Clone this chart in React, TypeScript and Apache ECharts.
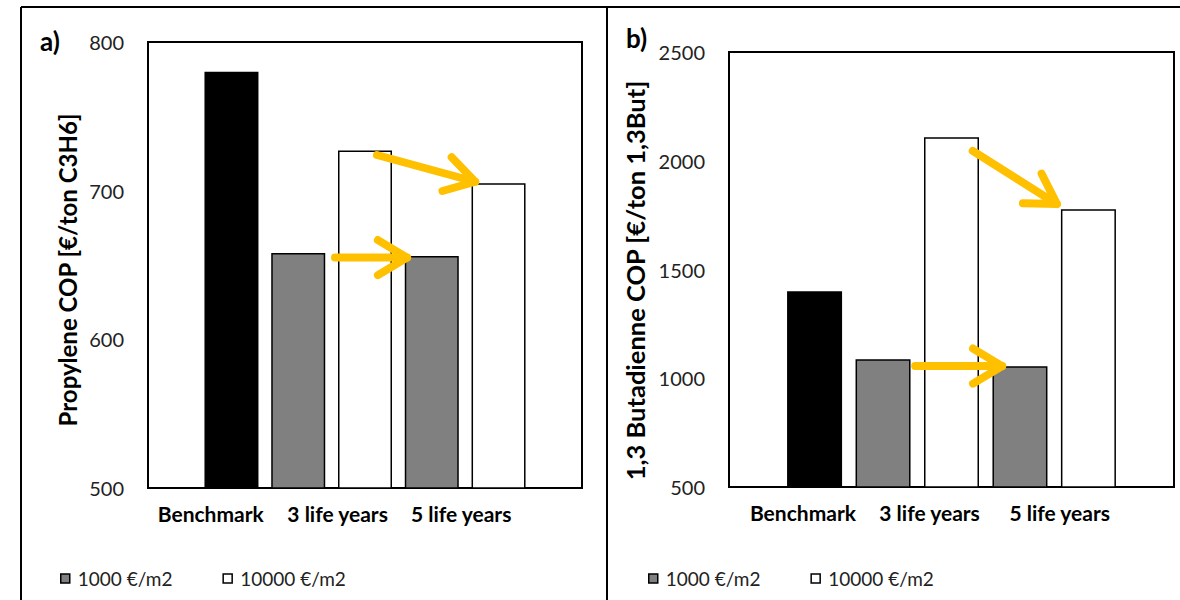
import React, { useEffect, useRef } from 'react';
import * as echarts from 'echarts';

const categories = ['Benchmark', '3 life years', '5 life years'];
const seriesNames = ['Benchmark', '1000 €/m2', '10000 €/m2'];
const propyleneBenchmark = [780];
const propylene1000 = [658, 656];
const propylene10000 = [727, 705];
const butadieneBenchmark = [1400];
const butadiene1000 = [1087, 1055];
const butadiene10000 = [2108, 1777];
const propyleneTicks = [500, 600, 700, 800];
const butadieneTicks = [500, 1000, 1500, 2000, 2500];
// arrows in data space: [x1, y1, x2, y2] (x in bar-slot units)
const propyleneArrows = [
  [3.43, 724, 4.9, 706],
  [2.8, 655, 3.88, 655],
];
const butadieneArrows = [
  [3.56, 2045, 4.79, 1801],
  [2.72, 1056, 3.99, 1056],
];

const FONT = 'Lato, "Open Sans", sans-serif';

function arrowRender(params: any, api: any) {
  const p1 = api.coord([api.value(0), api.value(1)]);
  const p2 = api.coord([api.value(2), api.value(3)]);
  const dx = p2[0] - p1[0];
  const dy = p2[1] - p1[1];
  const len = Math.hypot(dx, dy) || 1;
  const rx = -dx / len;
  const ry = -dy / len;
  const L = 34;
  const a = (31 * Math.PI) / 180;
  const arm = (s: number) => [
    p2[0] + L * (rx * Math.cos(s * a) - ry * Math.sin(s * a)),
    p2[1] + L * (rx * Math.sin(s * a) + ry * Math.cos(s * a)),
  ];
  const style = { stroke: '#FFC000', lineWidth: 8, lineCap: 'round', lineJoin: 'round', fill: null };
  return {
    type: 'group',
    children: [
      { type: 'line', shape: { x1: p1[0], y1: p1[1], x2: p2[0], y2: p2[1] }, style },
      { type: 'polyline', shape: { points: [arm(1), p2, arm(-1)] }, style },
    ],
  };
}

function buildPanel(
  idx: number,
  bench: number[],
  low: number[],
  high: number[],
  ticks: number[],
  arrows: number[][],
  labelPos: number[],
  barWidth: number
) {
  const series: any[] = [
    {
      type: 'bar',
      name: seriesNames[0],
      xAxisIndex: idx,
      yAxisIndex: idx,
      barWidth,
      barGap: '-100%',
      itemStyle: { color: '#000000', borderColor: '#000000', borderWidth: 1.5 },
      data: bench.map((v) => [1.25, v]),
    },
    {
      type: 'bar',
      name: seriesNames[1],
      xAxisIndex: idx,
      yAxisIndex: idx,
      barWidth,
      barGap: '-100%',
      itemStyle: { color: '#808080', borderColor: '#000000', borderWidth: 1.5 },
      data: low.map((v, i) => [2.25 + 2 * i, v]),
    },
    {
      type: 'bar',
      name: seriesNames[2],
      xAxisIndex: idx,
      yAxisIndex: idx,
      barWidth,
      barGap: '-100%',
      itemStyle: { color: '#ffffff', borderColor: '#000000', borderWidth: 1.5 },
      data: high.map((v, i) => [3.25 + 2 * i, v]),
    },
    {
      type: 'custom',
      xAxisIndex: idx,
      yAxisIndex: idx,
      renderItem: arrowRender,
      encode: { x: [0, 2], y: [1, 3] },
      clip: false,
      z: 10,
      data: arrows,
    },
  ];
  const xAxis = {
    type: 'value',
    gridIndex: idx,
    min: 0,
    max: 6.5,
    axisLine: { show: false },
    axisTick: { show: false },
    splitLine: { show: false },
    axisLabel: {
      customValues: labelPos,
      formatter: (v: number) => {
        const i = labelPos.findIndex((p) => Math.abs(p - v) < 1e-6);
        const name = i >= 0 ? categories[i] : '';
        if (idx === 1 && i === 1) return '{up|' + name + '}';
        return name;
      },
      rich: { up: { fontFamily: FONT, fontWeight: 'bold', fontSize: 21, color: '#000', padding: [0, 0, 10, 0] } },
      fontFamily: FONT,
      fontWeight: 'bold',
      fontSize: 21,
      color: '#000',
      margin: 15,
      showMinLabel: true,
      showMaxLabel: true,
    },
  };
  const yAxis = {
    type: 'value',
    gridIndex: idx,
    min: ticks[0],
    max: ticks[ticks.length - 1],
    interval: ticks[1] - ticks[0],
    axisLine: { show: false },
    axisTick: { show: false },
    splitLine: { show: false },
    axisLabel: { fontFamily: FONT, fontSize: 20, color: '#222', margin: 24, formatter: (v: number) => String(v) },
    name: idx === 0 ? 'Propylene COP [€/ton C3H6]' : '1,3 Butadienne COP [€/ton 1,3But]',
    nameLocation: 'middle',
    nameRotate: 90,
    nameGap: idx === 0 ? 69 : 81,
    nameTextStyle: {
      fontFamily: FONT,
      fontWeight: 'bold',
      fontSize: idx === 0 ? 24 : 25.5,
      color: '#000',
      padding: idx === 0 ? [0, 10, 0, 0] : [0, 22, 0, 0],
    },
  };
  return { series, xAxis, yAxis };
}

export default function App() {
  const ref = useRef<HTMLDivElement>(null);
  useEffect(() => {
    if (!ref.current) return;
    const chart = echarts.init(ref.current, undefined, { renderer: 'svg' });
    const left = buildPanel(0, propyleneBenchmark, propylene1000, propylene10000, propyleneTicks, propyleneArrows, [0.94, 2.84, 4.69], 54);
    const right = buildPanel(1, butadieneBenchmark, butadiene1000, butadiene10000, butadieneTicks, butadieneArrows, [1.08, 2.93, 4.83], 55);
    const legendBase = {
      data: [seriesNames[1], seriesNames[2]],
      top: 569,
      padding: 0,
      icon: 'rect',
      itemWidth: 9,
      itemHeight: 9,
      itemGap: 50,
      selectedMode: false,
      itemStyle: { borderColor: '#000', borderWidth: 1.5 },
      textStyle: { fontFamily: FONT, fontSize: 19, color: '#222', padding: [0, 0, 0, 3] },
    };
    const lineStyle = { stroke: '#000', lineWidth: 2 };
    chart.setOption({
      animation: false,
      backgroundColor: '#ffffff',
      grid: [
        { left: 148, top: 42, width: 434, height: 446, show: true, borderColor: '#000', borderWidth: 2, backgroundColor: 'transparent' },
        { left: 729, top: 52, width: 445, height: 435, show: true, borderColor: '#000', borderWidth: 2, backgroundColor: 'transparent' },
      ],
      xAxis: [left.xAxis, right.xAxis],
      yAxis: [left.yAxis, right.yAxis],
      legend: [
        { ...legendBase, left: 60 },
        { ...legendBase, left: 648 },
      ],
      series: [...left.series, ...right.series],
      graphic: [
        { type: 'line', shape: { x1: 21, y1: 7, x2: 1180, y2: 7 }, style: lineStyle, silent: true },
        { type: 'line', shape: { x1: 21, y1: 7, x2: 21, y2: 600 }, style: lineStyle, silent: true },
        { type: 'line', shape: { x1: 607, y1: 7, x2: 607, y2: 600 }, style: lineStyle, silent: true },
        { type: 'text', x: 40, y: 41, style: { text: 'a)', font: 'bold 26px ' + FONT, fill: '#000', textVerticalAlign: 'middle' } },
        { type: 'text', x: 626, y: 38, style: { text: 'b)', font: 'bold 26px ' + FONT, fill: '#000', textVerticalAlign: 'middle' } },
      ],
    });
    return () => chart.dispose();
  }, []);
  return (
    <div
      ref={ref}
      style={{ position: 'fixed', left: 0, top: 0, width: 1180, height: 600, background: '#fff' }}
    />
  );
}
